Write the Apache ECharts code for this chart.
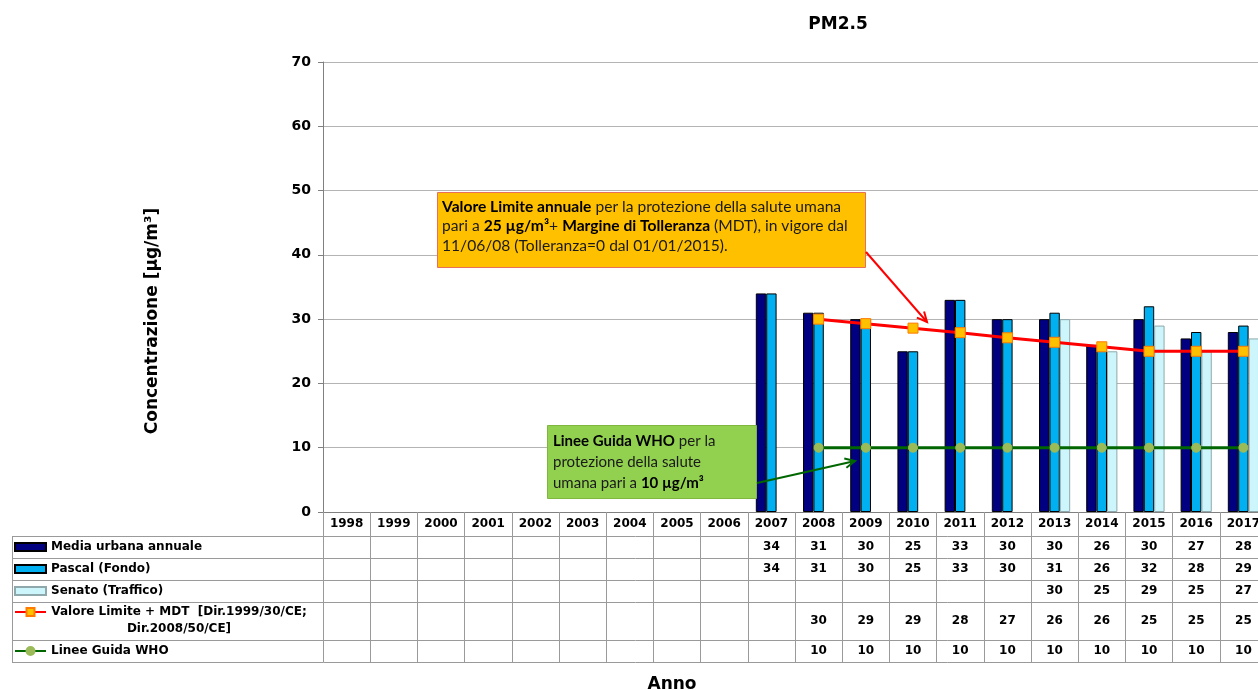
<!DOCTYPE html>
<html>
<head>
<meta charset="utf-8">
<title>PM2.5</title>
<script src="https://cdn.jsdelivr.net/npm/echarts@6/dist/echarts.min.js"></script>
<style>
  html, body { margin: 0; padding: 0; background: #ffffff; }
  #chart { width: 1258px; height: 690px; }
</style>
</head>
<body>
<div id="chart"></div>
<script>
// ---- data ----
const years = ['1998', '1999', '2000', '2001', '2002', '2003', '2004', '2005', '2006', '2007',
               '2008', '2009', '2010', '2011', '2012', '2013', '2014', '2015', '2016', '2017'];
const mediaUrbana    = [null, null, null, null, null, null, null, null, null, 34, 31, 30, 25, 33, 30, 30, 26, 30, 27, 28];
const pascalFondo    = [null, null, null, null, null, null, null, null, null, 34, 31, 30, 25, 33, 30, 31, 26, 32, 28, 29];
const senatoTraffico = [null, null, null, null, null, null, null, null, null, null, null, null, null, null, null, 30, 25, 29, 25, 27];
const valoreLimite   = [null, null, null, null, null, null, null, null, null, null, 30, 29.3, 28.6, 27.9, 27.1, 26.4, 25.7, 25, 25, 25];
const lineeGuidaWho  = [null, null, null, null, null, null, null, null, null, null, 10, 10, 10, 10, 10, 10, 10, 10, 10, 10];
const seriesNames = [
  'Media urbana annuale',
  'Pascal (Fondo)',
  'Senato (Traffico)',
  'Valore Limite + MDT  [Dir.1999/30/CE; Dir.2008/50/CE]',
  'Linee Guida WHO'
];

// ---- layout ----
const FONT = 'DejaVu Sans';
const NOTE_FONT = 'Lato';
const PLOT = { left: 323, top: 62, width: 944, height: 450 };
const TABLE_LEFT = 12;
const TABLE_LINES = [536, 558, 580, 602, 640, 662];
const LEGEND_MIDS = [547, 569, 591, 612, 651];
const VALUE_MIDS = [547, 569, 591, 621, 651];

const chart = echarts.init(document.getElementById('chart'), null, { renderer: 'canvas' });

const tableRows = [mediaUrbana, pascalFondo, senatoTraffico, valoreLimite, lineeGuidaWho];

const grids = [{ left: PLOT.left, top: PLOT.top, width: PLOT.width, height: PLOT.height, outerBoundsMode: 'none' }];
const xAxes = [{
  type: 'category',
  gridIndex: 0,
  data: years,
  boundaryGap: true,
  axisLine: { lineStyle: { color: '#808080', width: 1 } },
  axisTick: { show: true, interval: 0, alignWithLabel: false,
              length: TABLE_LINES[TABLE_LINES.length - 1] - (PLOT.top + PLOT.height),
              lineStyle: { color: '#9a9a9a', width: 1 } },
  axisLabel: { interval: 0, margin: 6, fontFamily: FONT, fontWeight: 'bold', fontSize: 12, color: '#000' }
}];
const yAxes = [{
  type: 'value',
  gridIndex: 0,
  min: 0, max: 70, interval: 10,
  axisLine: { show: true, lineStyle: { color: '#808080', width: 1 } },
  axisTick: { show: true, length: 5, lineStyle: { color: '#808080' } },
  axisLabel: { margin: 12, fontFamily: FONT, fontWeight: 'bold', fontSize: 14, color: '#000' },
  splitLine: { show: true, lineStyle: { color: '#b4b4b4', width: 1 } }
}];

// one thin grid per table row: its category labels print that row's values
tableRows.forEach((vals, i) => {
  grids.push({ left: PLOT.left, top: VALUE_MIDS[i] - 1, width: PLOT.width, height: 1, outerBoundsMode: 'none' });
  xAxes.push({
    type: 'category',
    gridIndex: i + 1,
    data: years,
    axisLine: { show: false },
    axisTick: { show: false },
    splitLine: { show: false },
    axisLabel: {
      interval: 0, margin: 0, verticalAlign: 'middle',
      fontFamily: FONT, fontWeight: 'bold', fontSize: 12, color: '#000',
      formatter: (v, idx) => (vals[idx] == null ? '' : String(Math.round(vals[idx])))
    }
  });
  yAxes.push({ type: 'value', gridIndex: i + 1, show: false, min: 0, max: 1, splitLine: { show: false } });
});

// width of the first legend line of the limit-value entry, so the second line centres under it
const measureCtx = document.createElement('canvas').getContext('2d');
measureCtx.font = 'bold 12px "' + FONT + '"';
const VALORE_LINE1 = 'Valore Limite + MDT  [Dir.1999/30/CE;';
const VALORE_LINE2 = 'Dir.2008/50/CE]';
const valoreLine1Width = Math.ceil(measureCtx.measureText(VALORE_LINE1).width);

// legends sit in the left column of the table, one per row
const legendText = { fontFamily: FONT, fontWeight: 'bold', fontSize: 12, color: '#000', lineHeight: 14 };
const legends = seriesNames.map((name, i) => {
  const isLine = i >= 3;
  const lg = {
    data: [name],
    left: 14,
    top: LEGEND_MIDS[i] - 7,
    padding: 0,
    itemWidth: 31,
    itemHeight: isLine ? 10 : 8,
    itemGap: 0,
    selectedMode: false,
    textStyle: Object.assign({}, legendText)
  };
  if (!isLine) lg.icon = 'rect';
  if (i === 3) {
    lg.top = LEGEND_MIDS[i] - 25.5;
    lg.formatter = () => '{s| }\n{a|' + VALORE_LINE1 + '}\n{a|' + VALORE_LINE2 + '}';
    lg.textStyle.rich = {
      s: { lineHeight: 17, fontSize: 12 },
      a: { width: valoreLine1Width, align: 'center', lineHeight: 17,
           fontFamily: FONT, fontWeight: 'bold', fontSize: 12, color: '#000' }
    };
  }
  return lg;
});

// arrows for the annotation boxes
function arrow(x1, y1, x2, y2, color) {
  const dx = x2 - x1, dy = y2 - y1, len = Math.hypot(dx, dy);
  const ux = dx / len, uy = dy / len, h = 11, a = Math.PI / 7;
  const p1 = [x2 - h * (ux * Math.cos(a) - uy * Math.sin(a)), y2 - h * (uy * Math.cos(a) + ux * Math.sin(a))];
  const p2 = [x2 - h * (ux * Math.cos(a) + uy * Math.sin(a)), y2 - h * (uy * Math.cos(a) - ux * Math.sin(a))];
  return [
    { type: 'polyline', z: 20, shape: { points: [[x1, y1], [x2, y2]] }, style: { stroke: color, lineWidth: 2, fill: null } },
    { type: 'polyline', z: 20, shape: { points: [p1, [x2, y2], p2] }, style: { stroke: color, lineWidth: 2, fill: null } }
  ];
}

const tableRight = PLOT.left + PLOT.width;
const graphics = [];
// horizontal rules of the data table
TABLE_LINES.forEach(y => {
  graphics.push({ type: 'line', z: 1, shape: { x1: TABLE_LEFT, y1: y + 0.5, x2: tableRight, y2: y + 0.5 },
                  style: { stroke: '#9a9a9a', lineWidth: 1 } });
});
graphics.push({ type: 'line', z: 1,
  shape: { x1: TABLE_LEFT + 0.5, y1: TABLE_LINES[0], x2: TABLE_LEFT + 0.5, y2: TABLE_LINES[TABLE_LINES.length - 1] + 1 },
  style: { stroke: '#9a9a9a', lineWidth: 1 } });

// axis titles
graphics.push({ type: 'text', z: 10, x: 153, y: 321, rotation: Math.PI / 2,
  style: { text: 'Concentrazione [µg/m³]', fontFamily: FONT, fontWeight: 'bold', fontSize: 17, fill: '#000',
           align: 'center', verticalAlign: 'middle' } });
graphics.push({ type: 'text', z: 10, x: 672, y: 685,
  style: { text: 'Anno', fontFamily: FONT, fontWeight: 'bold', fontSize: 17, fill: '#000',
           align: 'center', verticalAlign: 'middle' } });

// limit value note
graphics.push({ type: 'rect', z: 15, shape: { x: 437.5, y: 192.5, width: 428, height: 75 },
  style: { fill: '#ffc000', stroke: '#e8705a', lineWidth: 1 } });
graphics.push({ type: 'text', z: 16, x: 442, y: 197,
  style: {
    text: '{b|Valore Limite annuale} per la protezione della salute umana\n' +
          'pari a {b|25 µg/m³}+ {b|Margine di Tolleranza} (MDT), in vigore dal\n' +
          '11/06/08 (Tolleranza=0 dal 01/01/2015).',
    fontFamily: NOTE_FONT, fontSize: 15.6, lineHeight: 19.5, fill: '#1a1a1a',
    rich: { b: { fontFamily: NOTE_FONT, fontSize: 15.6, fontWeight: 'bold', lineHeight: 19.5, fill: '#000' } }
  } });
graphics.push(...arrow(866, 252, 927, 322, '#ff0000'));

// WHO guideline note
graphics.push({ type: 'rect', z: 15, shape: { x: 547.5, y: 425.5, width: 209, height: 73 },
  style: { fill: '#92d050', stroke: '#7fb63e', lineWidth: 1 } });
graphics.push({ type: 'text', z: 16, x: 553, y: 431,
  style: {
    text: '{b|Linee Guida WHO} per la\nprotezione della salute\numana pari a {b|10 µg/m³}',
    fontFamily: NOTE_FONT, fontSize: 15, lineHeight: 21, fill: '#1a1a1a',
    rich: { b: { fontFamily: NOTE_FONT, fontSize: 15, fontWeight: 'bold', lineHeight: 21, fill: '#000' } }
  } });
graphics.push(...arrow(757, 483, 855, 461, '#006600'));

const barCommon = { type: 'bar', xAxisIndex: 0, yAxisIndex: 0, barGap: '0%', barCategoryGap: '34%', z: 2 };

const option = {
  backgroundColor: '#ffffff',
  animation: false,
  title: {
    text: 'PM2.5', left: 838, top: 16, textAlign: 'center', padding: 0,
    textStyle: { fontFamily: FONT, fontWeight: 'bold', fontSize: 17, color: '#000' }
  },
  grid: grids,
  xAxis: xAxes,
  yAxis: yAxes,
  legend: legends,
  series: [
    Object.assign({}, barCommon, { name: seriesNames[0], data: mediaUrbana,
      itemStyle: { color: '#000080', borderColor: '#000000', borderWidth: 1 } }),
    Object.assign({}, barCommon, { name: seriesNames[1], data: pascalFondo,
      itemStyle: { color: '#00b0f0', borderColor: '#000000', borderWidth: 1 } }),
    Object.assign({}, barCommon, { name: seriesNames[2], data: senatoTraffico,
      itemStyle: { color: '#ccf6fb', borderColor: '#8fa8ab', borderWidth: 1 } }),
    { name: seriesNames[3], type: 'line', xAxisIndex: 0, yAxisIndex: 0, data: valoreLimite, z: 5,
      symbol: 'rect', symbolSize: 10, showAllSymbol: true,
      lineStyle: { color: '#ff0000', width: 3 },
      itemStyle: { color: '#ffc000', borderColor: '#ff7a00', borderWidth: 1 } },
    { name: seriesNames[4], type: 'line', xAxisIndex: 0, yAxisIndex: 0, data: lineeGuidaWho, z: 5,
      symbol: 'circle', symbolSize: 9, showAllSymbol: true,
      lineStyle: { color: '#006600', width: 3 },
      itemStyle: { color: '#9bbb59', borderColor: '#9bbb59', borderWidth: 1 } }
  ],
  graphic: graphics
};

chart.setOption(option);
</script>
</body>
</html>
